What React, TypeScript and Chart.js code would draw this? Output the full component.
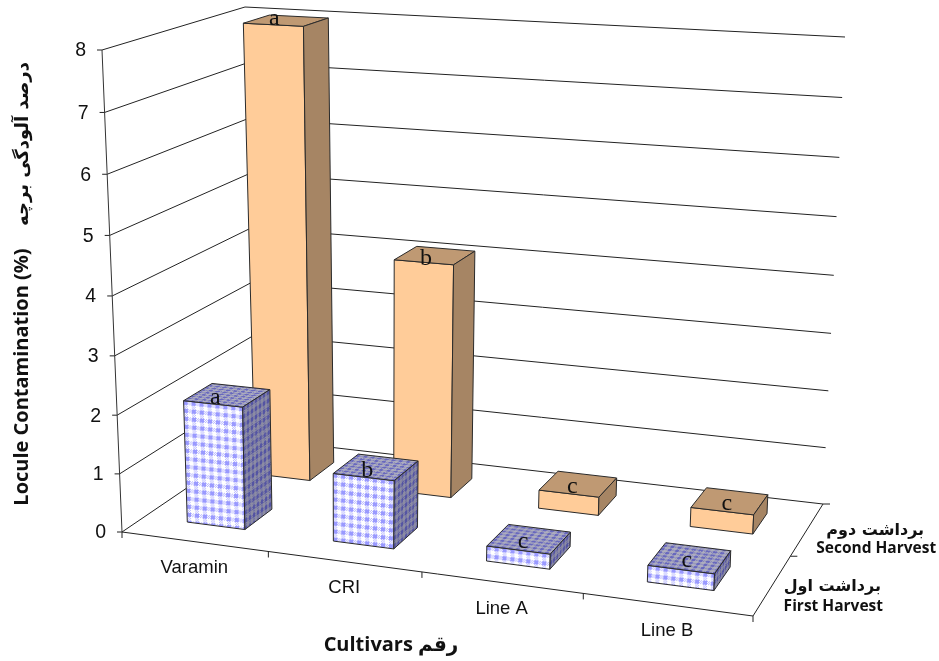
import React, { useEffect, useRef } from "react";
import { Chart, registerables } from "chart.js";

Chart.register(...registerables);

const categories = ["Varamin", "CRI", "Line A", "Line B"];
const harvests = ["First Harvest", "Second Harvest"];
const harvestsFa = ["برداشت اول", "برداشت دوم"];
const firstHarvest = [2.1, 1.15, 0.25, 0.27];
const secondHarvest = [8, 4.1, 0.32, 0.33];
const firstLetters = ["a", "b", "c", "c"];
const secondLetters = ["a", "b", "c", "c"];
const yTitle = "Locule Contamination (%)";
const yTitleFa = "درصد آلودگی برچه";
const xTitle = "Cultivars رقم";

type P = { x: number; y: number };

function homography(q: number[][]) {
  const [[x0, y0], [x1, y1], [x2, y2], [x3, y3]] = q;
  const dx1 = x1 - x2, dx2 = x3 - x2, sx = x0 - x1 + x2 - x3;
  const dy1 = y1 - y2, dy2 = y3 - y2, sy = y0 - y1 + y2 - y3;
  const den = dx1 * dy2 - dx2 * dy1;
  const g = (sx * dy2 - dx2 * sy) / den;
  const h = (dx1 * sy - sx * dy1) / den;
  const a = x1 - x0 + g * x1, b = x3 - x0 + h * x3;
  const d = y1 - y0 + g * y1, e = y3 - y0 + h * y3;
  return (u: number, w: number): P => {
    const z = g * u + h * w + 1;
    return { x: (a * u + b * w + x0) / z, y: (d * u + e * w + y0) / z };
  };
}

// the view: where the unit box's floor and ceiling land on the page
const floorH = homography([[122, 532], [753, 616], [823, 504], [259, 439]]);
const ceilH = homography([[102, 50], [771, 86], [845, 37], [245, 7]]);
const persp = 1.042;
const BAR = 0.4;

function project(u: number, w: number, t: number): P {
  const a = floorH(u, w), b = ceilH(u, w);
  const k = t / (persp + (1 - persp) * t);
  return { x: a.x + (b.x - a.x) * k, y: a.y + (b.y - a.y) * k };
}

function makeTile(shade: number) {
  const c = document.createElement("canvas");
  c.width = 8; c.height = 8;
  const g = c.getContext("2d")!;
  const col = (r: number, gg: number, b: number) =>
    `rgb(${r * shade},${gg * shade},${Math.min(255, b * (shade + (1 - shade) * 0.2))})`;
  for (let x = 0; x < 8; x++) {
    for (let y = 0; y < 8; y++) {
      const sx = x < 4, sy = y < 4;
      let f;
      if (sx && sy) f = col(153, 153, 255);
      else if (sx !== sy) f = (x + y) % 2 ? col(255, 255, 255) : col(185, 185, 255);
      else f = col(255, 255, 255);
      g.fillStyle = f;
      g.fillRect(x, y, 1, 1);
    }
  }
  return c;
}

function poly(ctx: CanvasRenderingContext2D, pts: P[], fill: any) {
  ctx.beginPath();
  pts.forEach((p, i) => (i ? ctx.lineTo(p.x, p.y) : ctx.moveTo(p.x, p.y)));
  ctx.closePath();
  ctx.fillStyle = fill;
  ctx.fill();
  ctx.strokeStyle = "#2a2a2a";
  ctx.lineWidth = 1;
  ctx.stroke();
}

function line(ctx: CanvasRenderingContext2D, a: P, b: P, color = "#222") {
  ctx.beginPath();
  ctx.moveTo(a.x, a.y);
  ctx.lineTo(b.x, b.y);
  ctx.strokeStyle = color;
  ctx.lineWidth = 1;
  ctx.stroke();
}

function text(ctx: CanvasRenderingContext2D, s: string, x: number, y: number, font: string, rot = 0, align: CanvasTextAlign = "center") {
  ctx.save();
  ctx.translate(x, y);
  if (rot) ctx.rotate(rot);
  ctx.font = font;
  ctx.fillStyle = "#111";
  ctx.textAlign = align;
  ctx.textBaseline = "middle";
  ctx.fillText(s, 0, 0);
  ctx.restore();
}

function facePattern(ctx: CanvasRenderingContext2D, tile: HTMLCanvasElement, o: P, e1: P, e2: P, s1: number, s2: number) {
  const p = ctx.createPattern(tile, "repeat")!;
  const n1 = Math.hypot(e1.x - o.x, e1.y - o.y), n2 = Math.hypot(e2.x - o.x, e2.y - o.y);
  p.setTransform(new DOMMatrix([
    ((e1.x - o.x) / n1) * s1, ((e1.y - o.y) / n1) * s1,
    ((e2.x - o.x) / n2) * s2, ((e2.y - o.y) / n2) * s2,
    o.x, o.y,
  ]));
  return p;
}

const bar3d = {
  id: "bar3d",
  afterDatasetsDraw(chart: any) {
    const ctx: CanvasRenderingContext2D = chart.ctx;
    const { x: xs, y: ys, depth: zs } = chart.scales;
    const U = (px: number) => (px - xs.left) / (xs.right - xs.left);
    const T = (v: number) => (ys.bottom - ys.getPixelForValue(v)) / (ys.bottom - ys.top);
    const W = (i: number) => (zs.bottom - zs.getPixelForValue(i)) / (zs.bottom - zs.top);
    const du = BAR / categories.length / 2;
    const dw = (BAR / harvests.length) / 2;
    ctx.save();

    // walls and gridlines
    ys.ticks.forEach((tk: any) => {
      const t = T(tk.value);
      const a = project(0, 0, t), b = project(0, 1, t), c = project(1, 1, t);
      line(ctx, a, b);
      line(ctx, b, c);
      line(ctx, a, { x: a.x - 5, y: a.y });
      text(ctx, String(tk.value), a.x - 16, a.y + 1, '19.5px "Liberation Sans"', 0, "right");
    });
    line(ctx, project(0, 0, 0), project(0, 0, 1), "#333");
    // floor
    line(ctx, project(0, 0, 0), project(1, 0, 0));
    line(ctx, project(1, 0, 0), project(1, 1, 0));
    categories.forEach((_, i) => {
      const a = project(i / categories.length, 0, 0);
      line(ctx, a, { x: a.x, y: a.y + 6 });
    });
    const end = project(1, 0, 0);
    line(ctx, end, { x: end.x, y: end.y + 6 });
    [0.5, 1].forEach((w) => {
      const a = project(1, w, 0);
      line(ctx, a, { x: a.x + 7, y: a.y });
    });

    // bars, far row first
    const orange = { face: "#FFCC99", top: "#BF9973", side: "#A68564" };
    const tileSide = makeTile(0.55), tileTop = makeTile(0.68), tileFace = makeTile(1);
    for (let d = 1; d >= 0; d--) {
      const ds = chart.data.datasets[d];
      const w0 = W(d);
      ds.data.forEach((v: number, i: number) => {
        const u0 = U(xs.getPixelForValue(i));
        const t = T(v);
        const fl = project(u0 - du, w0 - dw, 0), fr = project(u0 + du, w0 - dw, 0);
        const br = project(u0 + du, w0 + dw, 0);
        const tfl = project(u0 - du, w0 - dw, t), tfr = project(u0 + du, w0 - dw, t);
        const tbr = project(u0 + du, w0 + dw, t), tbl = project(u0 - du, w0 + dw, t);
        let fFace: any, fTop: any, fSide: any;
        if (d === 0) {
          fFace = facePattern(ctx, tileFace, tfl, tfr, fl, 1, 1);
          fTop = facePattern(ctx, tileTop, tfl, tfr, tbl, 0.9, 0.5);
          fSide = facePattern(ctx, tileSide, tfr, tbr, fr, 0.6, 1);
        } else {
          fFace = orange.face; fTop = orange.top; fSide = orange.side;
        }
        poly(ctx, [fl, fr, tfr, tfl], fFace);
        poly(ctx, [tfl, tfr, tbr, tbl], fTop);
        poly(ctx, [fr, br, tbr, tfr], fSide);
        const cx = (tfl.x + tbr.x) / 2, cy = (tfl.y + tbr.y) / 2;
        const letter = (d === 0 ? firstLetters : secondLetters)[i];
        text(ctx, letter, cx - 13 + 12 * u0, cy + (t > 0.9 ? -2 : 3), '24px "Liberation Serif"');
      });
    }

    // category labels
    categories.forEach((c, i) => {
      const p = project(U(xs.getPixelForValue(i)), 0, 0);
      text(ctx, c, p.x, p.y + 26, '18.5px "Liberation Sans"');
    });
    // depth labels
    const latin = 'bold 15.5px "Open Sans"';
    const fa = 'bold 16px "DejaVu Sans"';
    harvests.forEach((h, i) => {
      const p = project(1, W(i), 0);
      const dx = i === 0 ? 60 : 68, dy1 = i === 0 ? 2 : 2, dy2 = i === 0 ? 21 : 19;
      text(ctx, harvestsFa[i], p.x + dx, p.y + dy1, fa);
      text(ctx, h, p.x + dx + 1, p.y + dy2, latin);
    });
    // titles
    text(ctx, yTitle, 22, 377, 'bold 20px "Open Sans"', -Math.PI / 2);
    text(ctx, yTitleFa, 23, 144, 'bold 18px "DejaVu Sans"', -Math.PI / 2);
    text(ctx, xTitle, 391, 645, 'bold 20px "Open Sans", "DejaVu Sans"');
    ctx.restore();
  },
};

export default function App() {
  const ref = useRef<HTMLCanvasElement>(null);
  useEffect(() => {
    document.body.style.margin = "0";
    const chart = new Chart(ref.current!, {
      type: "bar",
      data: {
        labels: categories,
        datasets: [
          { label: harvests[0], data: firstHarvest, backgroundColor: "transparent", borderWidth: 0 },
          { label: harvests[1], data: secondHarvest, backgroundColor: "transparent", borderWidth: 0 },
        ],
      },
      plugins: [bar3d],
      options: {
        responsive: false,
        animation: false,
        events: [],
        layout: { padding: 0 },
        plugins: { legend: { display: false }, tooltip: { enabled: false }, title: { display: false } },
        scales: {
          x: { display: false, type: "category", offset: true },
          y: { display: false, type: "linear", min: 0, max: 8, ticks: { stepSize: 1 } },
          depth: { display: false, type: "category", axis: "y", labels: harvests, offset: true, reverse: true },
        },
      } as any,
    });
    return () => chart.destroy();
  }, []);
  return <canvas ref={ref} width={939} height={661} style={{ display: "block" }} />;
}
